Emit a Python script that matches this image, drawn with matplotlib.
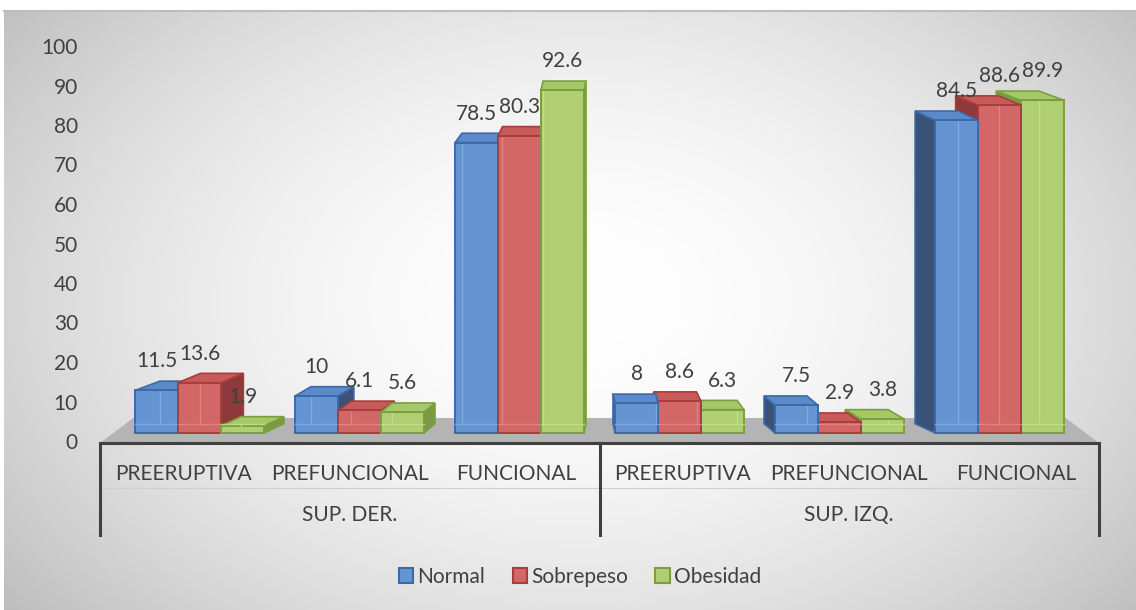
'''
3D clustered column chart builder
'''
import numpy as np
import matplotlib
matplotlib.use('Agg')
import matplotlib.pyplot as plt
from matplotlib.patches import Polygon, Patch

GROUPS = ['SUP. DER.', 'SUP. IZQ.']
CATEGORIES = ['PREERUPTIVA', 'PREFUNCIONAL', 'FUNCIONAL',
              'PREERUPTIVA', 'PREFUNCIONAL', 'FUNCIONAL']
SERIES = ['Normal', 'Sobrepeso', 'Obesidad']
NORMAL = [11.5, 10, 78.5, 8, 7.5, 84.5]
SOBREPESO = [13.6, 6.1, 80.3, 8.6, 2.9, 88.6]
OBESIDAD = [1.9, 5.6, 92.6, 6.3, 3.8, 89.9]
Y_TICKS = [0, 10, 20, 30, 40, 50, 60, 70, 80, 90, 100]

# front, edge, top, side, inner (back edges seen through the glass)
COLORS = [
    ('#6494d2', '#3c6aa8', '#5a8aca', '#3a5275', '#86b0e2'),
    ('#d36666', '#a93c3c', '#c85a5a', '#8e3a3a', '#e48a8a'),
    ('#afcf72', '#7c9f3e', '#a6c868', '#7a9a48', '#c6e092'),
]
TEXT = '#404040'
FONT = 'Lato'
FS = 15

W, H = 1136, 610
PX_X = 166.5      # pixels per category
PX_Y = 3.7        # pixels per value unit on the bar fronts
SHRINK = 0.961    # bars sit behind the category front edge
BAR_W = 0.258
DEPTH_Y = 9.3 / PX_Y
DEPTH_K = 0.056


def px_to_fig(x, y):
    '''
    Pixel position (top-left origin) to figure fraction
    '''
    return x / W, 1 - y / H


def draw_background(fig):
    '''
    Grey radial gradient panel behind the chart
    '''
    bg = fig.add_axes([0, 0, 1, 1], zorder=-10)
    yy, xx = np.mgrid[0:H, 0:W]
    r = np.sqrt(((xx - 580) / 640.0) ** 2 + ((yy - 300) / 430.0) ** 2)
    g = 1.0 - 0.2 * np.clip(r, 0, 1.4) ** 1.8
    g[:11, :] = 1.0
    g[:, :4] = 1.0
    img = np.dstack([g, g, g])
    bg.imshow(img, extent=[0, W, H, 0], aspect='auto', interpolation='bilinear')
    bg.plot([4, W], [11, 11], color='#bdbdbd', lw=1.5)
    bg.set_xlim(0, W)
    bg.set_ylim(H, 0)
    bg.axis('off')


def draw_bar(ax, x, value, colors):
    '''
    Draw one pseudo 3D column whose front face is centred at x
    '''
    front, edge, top, side, inner = colors
    dx = (3.0 - x) * DEPTH_K
    dy = DEPTH_Y
    left, right = x - BAR_W / 2, x + BAR_W / 2
    sx = right if dx > 0 else left
    ax.add_patch(Polygon([(sx, 0), (sx + dx, dy), (sx + dx, value + dy), (sx, value)],
                         closed=True, facecolor=side, edgecolor=edge, lw=1.2, zorder=3))
    ax.add_patch(Polygon([(left, value), (right, value), (right + dx, value + dy), (left + dx, value + dy)],
                         closed=True, facecolor=top, edgecolor=edge, lw=1.2, zorder=3))
    ax.add_patch(Polygon([(left, 0), (right, 0), (right, value), (left, value)],
                         closed=True, facecolor=front, edgecolor=edge, lw=1.4, zorder=3))
    # back edges seen through the glass
    bx = left + dx if dx > 0 else right + dx
    top_y = min(value, value + dy)
    ax.plot([bx, bx], [dy, top_y], color=inner, lw=1.0, alpha=0.8, zorder=3)
    ax.plot([left, right], [dy, dy], color=inner, lw=1.0, alpha=0.8, zorder=3)
    if value > dy:
        ax.plot([left, right], [value - 0.0, value - 0.0], color=edge, lw=1.4, zorder=3)


def builder():
    '''
    Build the whole figure
    '''
    plt.rcParams['font.family'] = [FONT, 'DejaVu Sans']
    fig = plt.figure(figsize=(W / 100, H / 100), dpi=100)
    draw_background(fig)

    x0, y0 = px_to_fig(100, 443)
    x1, y1 = px_to_fig(1099, 40)
    ax = fig.add_axes([x0, y0, x1 - x0, y1 - y0])
    ax.patch.set_alpha(0)
    y_bottom = -(443 - 433) / PX_Y
    ax.set_xlim(0, len(CATEGORIES))
    ax.set_ylim(y_bottom, (433 - 40) / PX_Y)
    ax.axis('off')

    # floor
    y_back = (433 - 418) / PX_Y
    ax.add_patch(Polygon([(0, y_bottom), (6, y_bottom), (5.8, y_back), (0.2, y_back)],
                         closed=True, facecolor='#b4b4b4', edgecolor='none', zorder=1))

    # bars, furthest from the centre first
    series = [NORMAL, SOBREPESO, OBESIDAD]
    bars = []
    for i in range(len(CATEGORIES)):
        center = 3.0 + (i + 0.5 - 3.0) * SHRINK
        for j, values in enumerate(series):
            bars.append((center + (j - 1) * BAR_W, values[i], j))
    bars.sort(key=lambda b: -abs(b[0] - 3.0))
    for x, value, j in bars:
        draw_bar(ax, x, value, COLORS[j])
    for x, value, j in bars:
        ax.text(x, value + 29 / PX_Y, '{:g}'.format(value), ha='center', va='center',
                fontsize=FS, color=TEXT, zorder=5)

    # y tick labels on the back wall
    for v in Y_TICKS:
        ax.text(-22 / PX_X, (433 - 443 + v * 3.95) / PX_Y, str(v), ha='right', va='center',
                fontsize=FS, color=TEXT, clip_on=False)

    # category axis frame
    y_low = y_bottom - 92 / PX_Y
    ax.plot([0, 6], [y_bottom, y_bottom], color='#404040', lw=2.2, clip_on=False, zorder=4,
            solid_capstyle='projecting')
    ax.plot([0, 6], [y_bottom - 45 / PX_Y] * 2, color='#cfcfcf', lw=0.8, clip_on=False)
    for xv in [0, 3, 6]:
        ax.plot([xv, xv], [y_bottom, y_low], color='#404040', lw=2.2, clip_on=False, zorder=4)
    for i, label in enumerate(CATEGORIES):
        ax.text(i + 0.5, y_bottom - 31 / PX_Y, label, ha='center', va='center',
                fontsize=FS, color=TEXT, clip_on=False)
    for g, label in enumerate(GROUPS):
        ax.text(g * 3 + 1.5, y_bottom - 72 / PX_Y, label, ha='center', va='center',
                fontsize=FS, color=TEXT, clip_on=False)

    handles = [Patch(facecolor=c[0], edgecolor=c[1], lw=1.5, label=s) for c, s in zip(COLORS, SERIES)]
    leg = fig.legend(handles=handles, loc='center', bbox_to_anchor=px_to_fig(580, 577), ncol=3,
                     frameon=False, fontsize=FS, handlelength=0.7, handleheight=0.7,
                     handletextpad=0.2, columnspacing=1.3)
    for t in leg.get_texts():
        t.set_color(TEXT)

    fig.savefig('out.png', dpi=100)


if __name__ == '__main__':
    builder()
